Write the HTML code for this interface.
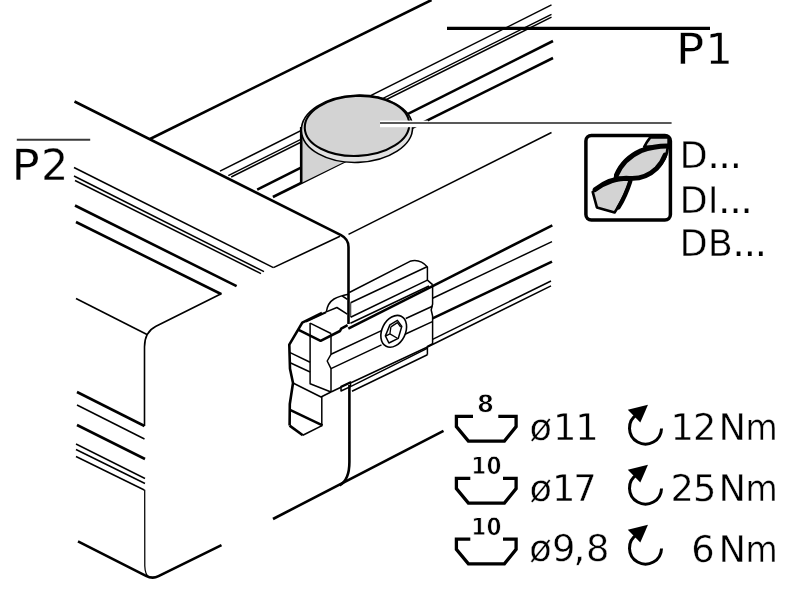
<!DOCTYPE html>
<html lang="en">
<head>
<meta charset="utf-8">
<title>Profile connection P1 / P2</title>
<style>
html,body{margin:0;padding:0;background:#fff;}
body{width:808px;height:592px;overflow:hidden;}
svg{display:block;will-change:transform;}
.k{stroke:#000;stroke-width:2.6;fill:none;stroke-linecap:butt;stroke-linejoin:round;}
.m{stroke:#000;stroke-width:1.6;fill:none;stroke-linejoin:round;}
.n{stroke:#000;stroke-width:1.5;fill:none;stroke-linejoin:round;}
text{font-family:"DejaVu Sans","Liberation Sans",sans-serif;fill:#000;text-rendering:geometricPrecision;}
.b{font-weight:bold;font-size:24px;text-anchor:middle;stroke:#fff;stroke-width:0.8px;}
.t{font-size:36.8px;stroke:#fff;stroke-width:0.4px;}
.d{font-size:36.6px;stroke:#fff;stroke-width:0.4px;}
.p{font-size:43px;stroke:#fff;stroke-width:0.3px;}
.o{stroke:none;letter-spacing:-0.55px;}
</style>
</head>
<body>
<svg width="808" height="592" viewBox="0 0 808 592">
<rect width="808" height="592" fill="#fff"/>

<!-- P1 top face grooves -->
<g id="p1top">
<path class="n" d="M220 171.2 L551.5 4.9"/>
<path class="n" d="M228.3 175.6 L551.5 14.3"/>
<path class="n" d="M231.2 177 L551.5 17.2"/>
<path class="k" d="M257.2 189.6 L553 41"/>
<path class="k" d="M272.9 197 L553 58"/>
</g>

<!-- cylinder -->
<g id="cyl">
<path d="M301.2 127 L301.2 183 L343 162.5 L380 150 Z" fill="#d3d3d3" stroke="none"/>
<path class="k" d="M301.2 127 L301.2 183.4"/>
<ellipse cx="357" cy="128.8" rx="55.6" ry="33.6" transform="rotate(-2 357 128.8)" fill="#e2e2e2" stroke="#000" stroke-width="1.6"/>
<ellipse cx="357" cy="125.9" rx="52.3" ry="30" transform="rotate(-2.5 357 125.9)" fill="#d3d3d3" stroke="#000" stroke-width="2.1"/>
</g>

<!-- leader -->
<rect x="380" y="120.6" width="48" height="6.6" fill="#fff"/>
<path d="M380 122.9 L671.6 122.9" stroke="#222" stroke-width="1.5" fill="none"/>

<!-- P1 horizontal pointer -->
<path d="M447 28.4 L710 28.4" stroke="#000" stroke-width="3.3" fill="none"/>
<text class="p" y="63.8"><tspan x="676" textLength="28.2" lengthAdjust="spacingAndGlyphs">P</tspan><tspan x="705.4">1</tspan></text>

<!-- P2 label -->
<path d="M16.8 139.8 L90.2 139.8" stroke="#3a3a3a" stroke-width="2" fill="none"/>
<text class="p" y="180"><tspan x="11.4" textLength="28.2" lengthAdjust="spacingAndGlyphs">P</tspan><tspan x="41">2</tspan></text>

<!-- main outlines -->
<g id="outline">
<path class="k" d="M150 139 L431.5 0"/>
<path class="k" d="M74.5 101.5 L341 235.2 Q348.4 239 348.5 247 L348.5 324"/>
<path class="k" d="M349.4 385 L349.4 462 Q349.4 480 339.6 485.3"/>
<path class="n" d="M348.5 234.3 L551.5 132.5"/>
<path class="k" d="M273 519 L443.5 430.8"/>
</g>

<!-- P2 top grooves -->
<g id="p2top">
<path class="n" d="M74 167.5 L273.4 267.6"/>
<path class="n" d="M74 176 L264 271.7"/>
<path class="n" d="M75 180.5 L261 273.6"/>
<path class="k" d="M75 205.5 L236.6 286.2"/>
<path class="k" d="M76 222 L221 294"/>
<path class="m" d="M273.4 267.6 L340 236.3"/>
</g>

<!-- P2 end/side faces -->
<g id="p2side">
<path class="m" d="M76 298.5 L147.5 334.7"/>
<path class="m" d="M221.7 293.5 L156 326.3 Q144.5 332 144.5 347 L144.5 426"/>
<path class="k" d="M77 392 L144.5 426"/>
<path class="n" d="M77 405 L144.5 439"/>
<path class="k" d="M77 425 L145 459"/>
<path class="n" d="M76 444 L145 478.5"/>
<path class="n" d="M76 449.5 L145 483.5"/>
<path class="n" d="M76 456.5 L144.3 490"/>
<path d="M144.7 489.8 L144.8 566 Q145 575 149.5 577.6" fill="none" stroke="#000" stroke-width="1.25"/>
<path class="k" d="M78 541.4 L146 575.8 Q152.4 579.3 158.5 576.2 L221.5 545.2"/>
</g>

<!-- P1 front grooves -->
<g id="p1front">
<path class="k" d="M432.6 286.1 L552.3 225.3"/>
<path class="n" d="M432.6 298.2 L552 241.6"/>
<path class="k" d="M432.6 318.3 L552 261.7"/>
<path class="n" d="M432.6 339.4 L551 281"/>
<path class="n" d="M351 382.8 L427.5 347 L551 285.8"/>
<path class="n" d="M351 386.4 L427.2 348.4"/>
<path class="n" d="M352 391.3 L427.4 354.8"/>
<path class="m" d="M331 392 L351 382.5"/>
</g>

<!-- clamp -->
<g id="clamp">
<!-- tab -->
<path class="n" d="M349.3 292.5 L410 261.3 Q420 258.5 427.4 267 L427.4 280.1 L432.6 284.6"/>
<path class="n" d="M350.6 302.7 L427 266.8"/>
<path d="M350.6 302.7 L350.6 317" stroke="#555" stroke-width="1.4" fill="none"/><path class="n" d="M350.6 317.2 L427.4 280.1"/>
<path class="n" d="M350.4 323.2 L429 286"/>
<path class="k" d="M348.3 328.6 L432.6 286.1"/>
<!-- right edge -->
<path class="n" d="M432.6 284.6 L432.6 304 L431.2 310 L432.6 316 L432.6 343.7 L427.4 346.5 L427.4 354.8"/>
<!-- body lines -->
<path class="n" d="M331 354.3 L381.5 330.6 M405.8 318.5 L432.4 306.2"/>
<path class="n" d="M331 368.6 L381.5 344.9 M405 334.2 L432.4 321.6"/>
<path class="n" d="M331 333.5 L331 354.3 L327.2 361 L331 368.6 L331 392"/>
<!-- head -->
<path class="k" d="M289.6 425.6 L289.8 404 L293 383 L290 368.8 L289.3 344.7 L302.3 322.6 L322 313"/>
<path class="n" d="M306 321.8 L326 312.6"/>
<path class="n" d="M322 313.6 L336.9 307.5 L347.3 314.2"/>
<path class="n" d="M326.3 312 Q327.5 303 334 299 Q339 296 348.4 294.2 M342.3 296 L347.4 299.3"/>
<path class="n" d="M310.1 323.1 L331 333.5"/>
<path class="k" d="M298.6 329.8 L320.6 340.8 L340 331 L341.2 328.6 L347.6 325.2"/>
<path class="n" d="M310.1 323.1 L310.1 383.8 L331 392"/>
<path class="n" d="M289.6 352.4 L310.1 362.3"/>
<path class="n" d="M289.6 362.5 L310.1 372"/>
<path class="n" d="M293 383 L321 397 L331 392"/>
<path class="n" d="M321.8 397 L321.8 425"/>
<path class="k" d="M289.6 425.6 L302.8 435.3"/><path class="m" d="M302.8 435.3 L322.5 425.4"/>
<path class="k" d="M290 409.8 L322.5 425.4"/>
<path class="n" d="M341 386.4 L350.5 382 L350.5 386.6 L341 391 Z"/>
<!-- screw -->
<ellipse cx="393.7" cy="331.3" rx="11.7" ry="16.8" transform="rotate(26.6 393.7 331.3)" fill="#fff" stroke="#000" stroke-width="1.6"/>
<path d="M397.4 320.4 L401.8 326.4 L398.3 338.3 L388.9 343 L385.4 335.9 L389.9 324.9 Z" fill="none" stroke="#000" stroke-width="1.5" stroke-linejoin="round"/>
<path d="M390.9 326.9 L397.4 322.6 L400.7 327 M390.9 326.9 L389.9 333.9 L397.4 338.3 M389.9 333.9 L386 335.8" fill="none" stroke="#000" stroke-width="1.3" stroke-linejoin="round"/>
</g>

<!-- drill icon -->
<g id="drill" stroke-linejoin="round" stroke-linecap="round">
<rect x="585.9" y="135.5" width="84.5" height="84.6" rx="5.5" ry="5.5" fill="#fff" stroke="#000" stroke-width="3.5"/>
<path d="M644.2 146.8 Q647 141.5 650.3 137.4 L668.6 137.4 L668.6 146 Z" fill="#d3d3d3" stroke="#000" stroke-width="2.6"/>
<path d="M592.7 191.9 L596.9 207.4 L614.6 212.5 Q624.5 198 630.4 180 Q611 176.5 592.7 191.9 Z" fill="#d3d3d3" stroke="#000" stroke-width="2.6"/>
<path d="M615 177.5 Q622 158.5 641 150.5 Q654 146 668 146 Q667 160 656.5 168.5 Q644 179.5 627 179 Z" fill="#d3d3d3" stroke="#000" stroke-width="2.8"/>
<path d="M616.5 175 Q623.3 158.7 641 150.7 Q654 145.8 668.6 146" fill="none" stroke="#000" stroke-width="4.9"/>
<path d="M595 189.6 Q611 177.3 629 178.3 Q645 179.5 656.5 168.5 Q662 163 665 155" fill="none" stroke="#000" stroke-width="4.8"/>
<path d="M630.4 181 Q625.6 196 618.5 207.5" fill="none" stroke="#000" stroke-width="4.2"/>
</g>
<text class="d" x="679.6" y="168">D<tspan class="o">...</tspan></text>
<text class="d" x="679.6" y="212.5">DI<tspan class="o">...</tspan></text>
<text class="d" x="679.6" y="256">DB<tspan class="o">...</tspan></text>

<!-- table -->
<g id="rows">
<g id="r1">
<g transform="translate(0 0)">
<path d="M473 416.3 L456.4 416.3 L456.4 426.6 L468.4 441.1 L504.4 441.1 L516.1 426.6 L516.1 416.3 L498.3 416.3" fill="none" stroke="#000" stroke-width="3.3"/>
<text class="b" transform="translate(485.6 412.3) scale(1.02 1)">8</text>
</g>
<g transform="translate(0 0)">
<path d="M661.5 428.5 A16 16 0 1 1 637 414.6" fill="none" stroke="#000" stroke-width="3"/>
<path d="M627.8 409.8 L648 404.8 L640.3 422.5 Z" fill="#000"/>
</g>
<g transform="translate(0 0)">
<text class="t" x="529.4 553 575.2" y="439.6">ø11</text>
<text class="t" y="439.9"><tspan x="670.4 693">12</tspan><tspan x="718.6">N</tspan><tspan x="745.6" textLength="32.2" lengthAdjust="spacingAndGlyphs">m</tspan></text>
</g>
</g>
<g id="r2">
<g transform="translate(0 62)">
<path d="M470.3 416.3 L456.4 416.3 L456.4 426.6 L468.4 441.1 L504.4 441.1 L516.1 426.6 L516.1 416.3 L503 416.3" fill="none" stroke="#000" stroke-width="3.3"/>
<text class="b" transform="translate(486.4 412.3) scale(0.9 1)">10</text>
</g>
<g transform="translate(0 60)">
<path d="M661.5 428.5 A16 16 0 1 1 637 414.6" fill="none" stroke="#000" stroke-width="3"/>
<path d="M627.8 409.8 L648 404.8 L640.3 422.5 Z" fill="#000"/>
</g>
<g transform="translate(0 61)">
<text class="t" x="529.4 552 573.2" y="439.6">ø17</text>
<text class="t" y="439.9"><tspan x="670.4 693">25</tspan><tspan x="718.6">N</tspan><tspan x="745.6" textLength="32.2" lengthAdjust="spacingAndGlyphs">m</tspan></text>
</g>
</g>
<g id="r3">
<g transform="translate(0 122.8)">
<path d="M470.3 416.3 L456.4 416.3 L456.4 426.6 L468.4 441.1 L504.4 441.1 L516.1 426.6 L516.1 416.3 L503 416.3" fill="none" stroke="#000" stroke-width="3.3"/>
<text class="b" transform="translate(486.4 412.3) scale(0.9 1)">10</text>
</g>
<g transform="translate(0 120)">
<path d="M661.5 428.5 A16 16 0 1 1 637 414.6" fill="none" stroke="#000" stroke-width="3"/>
<path d="M627.8 409.8 L648 404.8 L640.3 422.5 Z" fill="#000"/>
</g>
<g transform="translate(0 121.4)">
<text class="t" x="529.2 552 573.4 586" y="439.6">ø9,8</text>
<text class="t" y="440.5"><tspan x="691.2">6</tspan><tspan x="718.6">N</tspan><tspan x="745.6" textLength="32.2" lengthAdjust="spacingAndGlyphs">m</tspan></text>
</g>
</g>
</g>
</svg>
</body>
</html>
